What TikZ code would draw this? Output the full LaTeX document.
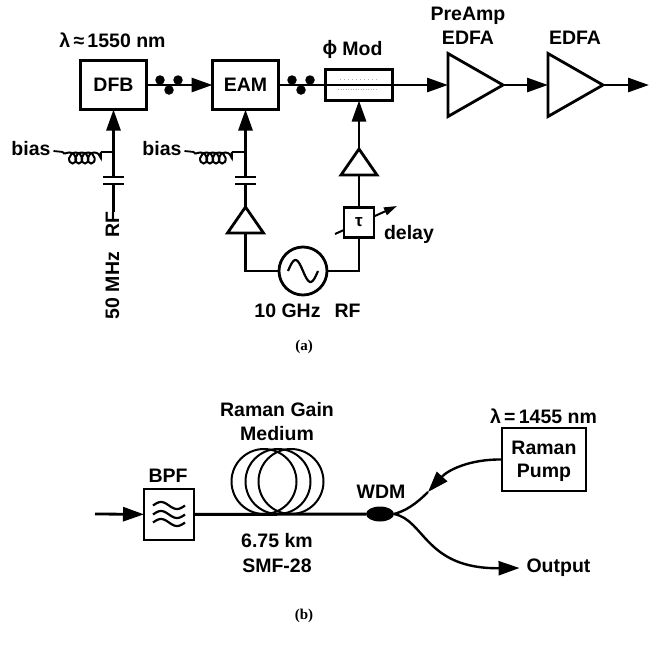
\documentclass[tikz,border=0pt]{standalone}
\usepackage{fontspec}
\setsansfont{Liberation Sans}
\newfontfamily\captionfont{Liberation Serif}
\usepackage{tikz}
\usetikzlibrary{arrows.meta,shapes.geometric,decorations.pathmorphing}

\begin{document}
\begin{tikzpicture}[x=1pt, y=-1pt, node distance=132pt, line width=2.8pt, every node/.append style={outer sep=0pt},
	main node/.style={rectangle,draw,fill=white,inner sep=0pt,minimum width=66pt,minimum height=49pt,font=\sffamily\bfseries\fontsize{19.5}{22}\selectfont},
	mod node/.style={rectangle,draw,fill=white,inner sep=0pt,minimum width=67pt,minimum height=31pt},
	amp node/.style={isosceles triangle,isosceles triangle stretches,draw,inner sep=0pt,minimum width=63pt,minimum height=55pt,anchor=lower side},
	small amp/.style={isosceles triangle,isosceles triangle stretches,shape border rotate=90,draw,inner sep=0pt,minimum width=36pt,minimum height=26pt,anchor=lower side},
	plate node/.style={rectangle,fill=black,inner sep=0pt,minimum width=21pt,minimum height=2.8pt},
	dot node/.style={circle,fill=black,inner sep=0pt,minimum size=9.5pt},
	label node/.style={inner sep=0pt,font=\sffamily\bfseries\fontsize{19.5}{22}\selectfont},
	cap node/.style={inner sep=0pt,font=\captionfont\bfseries\fontsize{15}{17}\selectfont},
	arrow line/.style={-{Triangle[length=21pt,width=14pt]}},
	coil line/.style={line width=2pt,decorate,decoration={coil,aspect=0.9,segment length=6.2pt,amplitude=5.5pt,raise=-6pt,pre length=0pt,post length=0pt}},
	fiber line/.style={line width=2.4pt}]
	\useasboundingbox (0,0) rectangle (649,646);
	
	% top row
	\node[main node] (dfb) at (113.5,85) {DFB};
	\node[main node] (eam) [right of=dfb] {EAM};
	\node[mod node] (mod) [right of=eam,node distance=113.5pt] {};
	\node[amp node] (preamp) at (448,85) {};
	\node[amp node] (edfa) at (548,85) {};
	\coordinate (out) at (649,85);
	
	\node[dot node] (dota) at (160,80) {};
	\node[dot node] (dotb) at (169,90) {};
	\node[dot node] (dotc) at (178,80) {};
	\node[dot node] (dotd) at (292,80) {};
	\node[dot node] (dote) at (301,90) {};
	\node[dot node] (dotf) at (310,80) {};
	
	\node[label node] (lambdaa) at (112.5,40) {λ\,≈\,1550 nm};
	\node[label node] (phi) at (330,49) {ϕ};
	\node[label node] (modlabel) at (362.5,49) {Mod};
	\node[label node] (preamplabel) at (468,16) {PreAmp};
	\node[label node] (edfaa) at (468,38) {EDFA};
	\node[label node] (edfab) at (575,38) {EDFA};
	
	% bias of the DFB
	\node[coordinate] (dfbtap) [below of=dfb,node distance=67pt] {};
	\node[plate node] (plateA) [below of=dfb,node distance=92pt] {};
	\node[plate node] (plateB) [below of=dfb,node distance=99pt] {};
	\node[label node,rotate=90] (mhz) at (112.5,265.5) {50 MHz\ \ \,RF};
	\node[label node] (biasa) at (31,149) {bias};
	\coordinate (coila) at (63,152);
	\coordinate (coilb) at (101,152);
	
	% bias and drive of the EAM
	\node[coordinate] (eamtap) [below of=eam,node distance=67pt] {};
	\node[plate node] (plateC) [below of=eam,node distance=92pt] {};
	\node[plate node] (plateD) [below of=eam,node distance=99pt] {};
	\node[small amp] (eamamp) at (245.5,233) {};
	\node[label node] (biasb) at (162,149) {bias};
	\coordinate (coilc) at (194,152);
	\coordinate (coild) at (232,152);
	\node[circle,draw,fill=white,inner sep=0pt,minimum size=48pt] (src) at (303,271) {};
	\coordinate (cornera) at (245.5,271);
	\coordinate (cornerb) at (359,271);
	\node[label node] (ghz) at (287.5,311) {10 GHz};
	\node[label node] (rf) at (347.5,311) {RF};
	
	% drive of the modulator
	\node[small amp] (modamp) at (359,175) {};
	\coordinate (delaya) at (335,234);
	\coordinate (delayb) at (397,206);
	\draw[line width=2pt,-{Triangle[length=13pt,width=8pt]}] (delaya) -- (delayb);
	\node[rectangle,draw,fill=white,inner sep=0pt,minimum size=30pt,font=\sffamily\bfseries\fontsize{17}{20}\selectfont] (tau) at (359,222.5) {τ};
	\node[label node] (delay) at (409,234) {delay};
	
	\path[draw]
	(eam) -- (mod.west)
	(mod.west) -- (mod.east)
	(plateB) -- (plateB |- mhz.east)
	(dfbtap) -- (plateA)
	(eamtap) -- (plateC)
	(plateD) -- (eamamp.apex)
	(eamamp.lower side) -- (cornera) -- (src)
	(src) -- (cornerb) -- (tau)
	(tau) -- (modamp.lower side);
	\path[every edge/.append style={arrow line}]
	(dfb) edge (eam)
	(mod.east) edge (preamp.lower side)
	(preamp.apex) edge (edfa.lower side)
	(edfa.apex) edge (out)
	(plateA) edge (dfb.south)
	(plateC) edge (eam.south)
	(modamp.apex) edge (mod.south);
	
	% coils and faint lines of the modulator
	\path[draw,line width=1.8pt]
	([xshift=3pt,yshift=-2pt]biasa.east) -- (coila)
	(coilb) -- (dfbtap)
	([xshift=3pt,yshift=-2pt]biasb.east) -- (coilc)
	(coild) -- (eamtap);
	\draw[coil line] (coila) -- (coilb);
	\draw[coil line] (coilc) -- (coild);
	\draw[line width=0.5pt,gray!60,dashed,dash pattern=on 1pt off 1.5pt] (338,89) -- (378,89);
	\draw[line width=0.5pt,gray!60,dashed,dash pattern=on 1pt off 3pt] (340,79) -- (378,79);
	\draw[line width=2.2pt,shift={(src)}] plot[smooth,domain=-15:15] (\x,{11*sin(12*\x)});
	
	\node[cap node] (capa) at (304,347) {(a)};
	
	% lower part
	\coordinate (in) at (95,514);
	\node[main node,minimum width=50pt,minimum height=51pt] (bpf) at (169,514.5) {};
	\node[label node] (bpflabel) at (168,476) {BPF};
	\node[ellipse,fill=black,inner sep=0pt,minimum width=28pt,minimum height=15pt] (wdm) at (380,514) {};
	\node[label node] (wdmlabel) at (381,492) {WDM};
	\node[main node,minimum width=84pt,minimum height=63pt] (pump) at (544,459.5) {};
	\node[label node] (pumpa) at (544,448) {Raman};
	\node[label node] (pumpb) at (544,473) {Pump};
	\node[label node] (lambdab) at (543.5,416) {λ\,=\,1455 nm};
	\node[label node] (gaina) at (277,410) {Raman Gain};
	\node[label node] (gainb) at (277,434) {Medium};
	\node[label node] (lena) at (277,541) {6.75 km};
	\node[label node] (lenb) at (277,566) {SMF-28};
	\node[label node] (output) at (558.5,568) {Output};
	\coordinate (pumpmid) at (428,492);
	
	\draw[arrow line] (in) -- (bpf);
	\foreach \k in {264,278,291}
		\draw[line width=2pt] (\k,481.5) circle (32.5);
	\draw[line width=3pt] (bpf) -- (wdm);
	\foreach \dy in {-9,0,8}
		\draw[line width=2.2pt,shift={(bpf.center)},yshift=-\dy pt] plot[smooth,domain=-16:16] (\x,{3.5*sin(11.25*\x)});
	
	\draw[fiber line,arrow line] (pump.west) .. controls (470,459) and (448,470) .. (pumpmid);
	\draw[fiber line] (pumpmid) .. controls (415,505) and (405,511) .. (wdm.east);
	\draw[fiber line,arrow line] (wdm.east) .. controls (425,520) and (425,569) .. ([xshift=-7pt]output.west);
	
	\node[cap node] (capb) at (304,616) {(b)};
\end{tikzpicture}
\end{document}
